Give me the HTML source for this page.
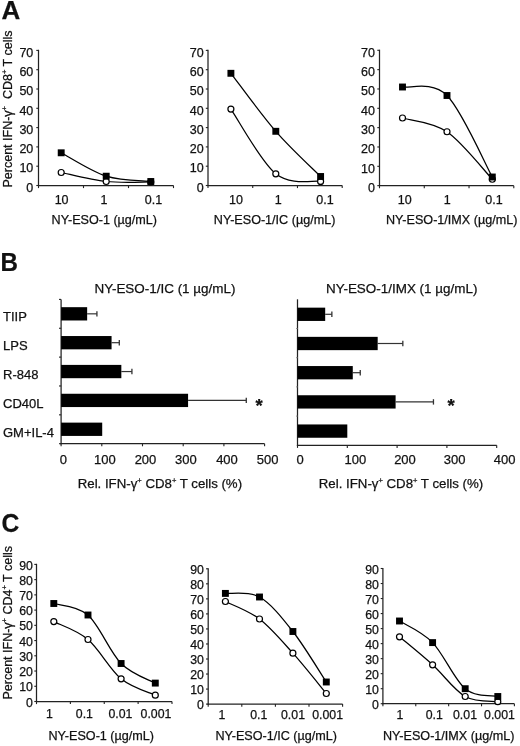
<!DOCTYPE html>
<html><head><meta charset="utf-8"><style>
html,body{margin:0;padding:0;background:#fff;}
svg{display:block;filter:grayscale(1);}
text{font-family:"Liberation Sans", sans-serif;fill:#111;stroke:#111;stroke-width:0.25;}
</style></head><body>
<svg width="520" height="746" viewBox="0 0 520 746">
<rect width="520" height="746" fill="#fff"/>
<text x="1.40" y="19.20" font-size="26" text-anchor="start" font-weight="bold" >A</text>
<g transform="translate(0.6,271) scale(0.93,1)"><text x="0" y="0" font-size="26" font-weight="bold">B</text></g>
<g transform="translate(1.5,532.3) scale(0.95,1)"><text x="0" y="0" font-size="26" font-weight="bold">C</text></g>
<text transform="translate(12.00,187.50) rotate(-90)" font-size="12.5">Percent IFN-γ<tspan font-size="7.5" dy="-5">+</tspan><tspan dy="5">  CD8</tspan><tspan font-size="7.5" dy="-5">+</tspan><tspan dy="5"> T cells</tspan></text>
<line x1="38.50" y1="49.80" x2="38.50" y2="186.10" stroke="#222" stroke-width="1.25"/>
<line x1="37.90" y1="185.50" x2="173.50" y2="185.50" stroke="#222" stroke-width="1.25"/>
<line x1="36.30" y1="185.50" x2="38.50" y2="185.50" stroke="#222" stroke-width="1.1"/>
<text x="33.30" y="191.70" font-size="12.5" text-anchor="end" >0</text>
<line x1="36.30" y1="166.20" x2="38.50" y2="166.20" stroke="#222" stroke-width="1.1"/>
<text x="33.30" y="172.40" font-size="12.5" text-anchor="end" >10</text>
<line x1="36.30" y1="146.90" x2="38.50" y2="146.90" stroke="#222" stroke-width="1.1"/>
<text x="33.30" y="153.10" font-size="12.5" text-anchor="end" >20</text>
<line x1="36.30" y1="127.60" x2="38.50" y2="127.60" stroke="#222" stroke-width="1.1"/>
<text x="33.30" y="133.80" font-size="12.5" text-anchor="end" >30</text>
<line x1="36.30" y1="108.30" x2="38.50" y2="108.30" stroke="#222" stroke-width="1.1"/>
<text x="33.30" y="114.50" font-size="12.5" text-anchor="end" >40</text>
<line x1="36.30" y1="89.00" x2="38.50" y2="89.00" stroke="#222" stroke-width="1.1"/>
<text x="33.30" y="95.20" font-size="12.5" text-anchor="end" >50</text>
<line x1="36.30" y1="69.70" x2="38.50" y2="69.70" stroke="#222" stroke-width="1.1"/>
<text x="33.30" y="75.90" font-size="12.5" text-anchor="end" >60</text>
<line x1="36.30" y1="50.40" x2="38.50" y2="50.40" stroke="#222" stroke-width="1.1"/>
<text x="33.30" y="56.60" font-size="12.5" text-anchor="end" >70</text>
<line x1="38.50" y1="185.50" x2="38.50" y2="188.10" stroke="#222" stroke-width="1.1"/>
<line x1="83.50" y1="185.50" x2="83.50" y2="188.10" stroke="#222" stroke-width="1.1"/>
<line x1="128.50" y1="185.50" x2="128.50" y2="188.10" stroke="#222" stroke-width="1.1"/>
<line x1="173.50" y1="185.50" x2="173.50" y2="188.10" stroke="#222" stroke-width="1.1"/>
<path d="M61.20,172.50 C68.70,174.00 91.27,179.92 106.20,181.50 C121.13,183.08 143.37,181.92 150.80,182.00" fill="none" stroke="#000" stroke-width="1.25"/>
<circle cx="61.20" cy="172.50" r="3.00" fill="#fff" stroke="#000" stroke-width="1.2"/>
<circle cx="106.20" cy="181.50" r="3.00" fill="#fff" stroke="#000" stroke-width="1.2"/>
<circle cx="150.80" cy="182.00" r="3.00" fill="#fff" stroke="#000" stroke-width="1.2"/>
<path d="M61.20,152.80 C68.70,156.70 91.27,171.42 106.20,176.20 C121.13,180.98 143.37,180.62 150.80,181.50" fill="none" stroke="#000" stroke-width="1.25"/>
<rect x="57.75" y="149.35" width="6.90" height="6.90" fill="#000"/>
<rect x="102.75" y="172.75" width="6.90" height="6.90" fill="#000"/>
<rect x="147.35" y="178.05" width="6.90" height="6.90" fill="#000"/>
<text x="61.60" y="203.60" font-size="12.5" text-anchor="middle" >10</text>
<text x="103.90" y="203.60" font-size="12.5" text-anchor="middle" >1</text>
<text x="153.40" y="203.60" font-size="12.5" text-anchor="middle" >0.1</text>
<text x="51.60" y="224.40" font-size="12.6" text-anchor="start" >NY-ESO-1 (µg/mL)</text>
<line x1="208.00" y1="49.80" x2="208.00" y2="186.10" stroke="#222" stroke-width="1.25"/>
<line x1="207.40" y1="185.50" x2="342.20" y2="185.50" stroke="#222" stroke-width="1.25"/>
<line x1="205.80" y1="185.50" x2="208.00" y2="185.50" stroke="#222" stroke-width="1.1"/>
<text x="203.60" y="191.70" font-size="12.5" text-anchor="end" >0</text>
<line x1="205.80" y1="166.20" x2="208.00" y2="166.20" stroke="#222" stroke-width="1.1"/>
<text x="203.60" y="172.40" font-size="12.5" text-anchor="end" >10</text>
<line x1="205.80" y1="146.90" x2="208.00" y2="146.90" stroke="#222" stroke-width="1.1"/>
<text x="203.60" y="153.10" font-size="12.5" text-anchor="end" >20</text>
<line x1="205.80" y1="127.60" x2="208.00" y2="127.60" stroke="#222" stroke-width="1.1"/>
<text x="203.60" y="133.80" font-size="12.5" text-anchor="end" >30</text>
<line x1="205.80" y1="108.30" x2="208.00" y2="108.30" stroke="#222" stroke-width="1.1"/>
<text x="203.60" y="114.50" font-size="12.5" text-anchor="end" >40</text>
<line x1="205.80" y1="89.00" x2="208.00" y2="89.00" stroke="#222" stroke-width="1.1"/>
<text x="203.60" y="95.20" font-size="12.5" text-anchor="end" >50</text>
<line x1="205.80" y1="69.70" x2="208.00" y2="69.70" stroke="#222" stroke-width="1.1"/>
<text x="203.60" y="75.90" font-size="12.5" text-anchor="end" >60</text>
<line x1="205.80" y1="50.40" x2="208.00" y2="50.40" stroke="#222" stroke-width="1.1"/>
<text x="203.60" y="56.60" font-size="12.5" text-anchor="end" >70</text>
<line x1="208.00" y1="185.50" x2="208.00" y2="188.10" stroke="#222" stroke-width="1.1"/>
<line x1="252.73" y1="185.50" x2="252.73" y2="188.10" stroke="#222" stroke-width="1.1"/>
<line x1="297.47" y1="185.50" x2="297.47" y2="188.10" stroke="#222" stroke-width="1.1"/>
<line x1="342.20" y1="185.50" x2="342.20" y2="188.10" stroke="#222" stroke-width="1.1"/>
<path d="M230.90,109.10 C238.38,119.88 260.85,161.75 275.80,173.80 C290.75,185.85 313.13,180.13 320.60,181.40" fill="none" stroke="#000" stroke-width="1.25"/>
<circle cx="230.90" cy="109.10" r="3.00" fill="#fff" stroke="#000" stroke-width="1.2"/>
<circle cx="275.80" cy="173.80" r="3.00" fill="#fff" stroke="#000" stroke-width="1.2"/>
<circle cx="320.60" cy="181.40" r="3.00" fill="#fff" stroke="#000" stroke-width="1.2"/>
<path d="M230.90,73.30 C238.38,82.97 260.85,114.10 275.80,131.30 C290.75,148.50 313.13,168.97 320.60,176.50" fill="none" stroke="#000" stroke-width="1.25"/>
<rect x="227.45" y="69.85" width="6.90" height="6.90" fill="#000"/>
<rect x="272.35" y="127.85" width="6.90" height="6.90" fill="#000"/>
<rect x="317.15" y="173.05" width="6.90" height="6.90" fill="#000"/>
<text x="235.90" y="203.60" font-size="12.5" text-anchor="middle" >10</text>
<text x="278.30" y="203.60" font-size="12.5" text-anchor="middle" >1</text>
<text x="324.90" y="203.60" font-size="12.5" text-anchor="middle" >0.1</text>
<text x="213.80" y="224.40" font-size="12.6" text-anchor="start" >NY-ESO-1/IC (µg/mL)</text>
<line x1="379.50" y1="49.70" x2="379.50" y2="186.25" stroke="#222" stroke-width="1.25"/>
<line x1="378.90" y1="185.65" x2="513.80" y2="185.65" stroke="#222" stroke-width="1.25"/>
<line x1="377.30" y1="185.65" x2="379.50" y2="185.65" stroke="#222" stroke-width="1.1"/>
<text x="375.00" y="191.85" font-size="12.5" text-anchor="end" >0</text>
<line x1="377.30" y1="166.31" x2="379.50" y2="166.31" stroke="#222" stroke-width="1.1"/>
<text x="375.00" y="172.51" font-size="12.5" text-anchor="end" >10</text>
<line x1="377.30" y1="146.98" x2="379.50" y2="146.98" stroke="#222" stroke-width="1.1"/>
<text x="375.00" y="153.18" font-size="12.5" text-anchor="end" >20</text>
<line x1="377.30" y1="127.64" x2="379.50" y2="127.64" stroke="#222" stroke-width="1.1"/>
<text x="375.00" y="133.84" font-size="12.5" text-anchor="end" >30</text>
<line x1="377.30" y1="108.31" x2="379.50" y2="108.31" stroke="#222" stroke-width="1.1"/>
<text x="375.00" y="114.51" font-size="12.5" text-anchor="end" >40</text>
<line x1="377.30" y1="88.97" x2="379.50" y2="88.97" stroke="#222" stroke-width="1.1"/>
<text x="375.00" y="95.17" font-size="12.5" text-anchor="end" >50</text>
<line x1="377.30" y1="69.64" x2="379.50" y2="69.64" stroke="#222" stroke-width="1.1"/>
<text x="375.00" y="75.84" font-size="12.5" text-anchor="end" >60</text>
<line x1="377.30" y1="50.30" x2="379.50" y2="50.30" stroke="#222" stroke-width="1.1"/>
<text x="375.00" y="56.50" font-size="12.5" text-anchor="end" >70</text>
<line x1="379.50" y1="185.65" x2="379.50" y2="188.25" stroke="#222" stroke-width="1.1"/>
<line x1="424.27" y1="185.65" x2="424.27" y2="188.25" stroke="#222" stroke-width="1.1"/>
<line x1="469.03" y1="185.65" x2="469.03" y2="188.25" stroke="#222" stroke-width="1.1"/>
<line x1="513.80" y1="185.65" x2="513.80" y2="188.25" stroke="#222" stroke-width="1.1"/>
<path d="M402.50,118.00 C409.92,120.29 432.03,121.54 447.00,131.75 C461.97,141.96 484.75,171.33 492.30,179.25" fill="none" stroke="#000" stroke-width="1.25"/>
<circle cx="402.50" cy="118.00" r="3.00" fill="#fff" stroke="#000" stroke-width="1.2"/>
<circle cx="447.00" cy="131.75" r="3.00" fill="#fff" stroke="#000" stroke-width="1.2"/>
<circle cx="492.30" cy="179.25" r="3.00" fill="#fff" stroke="#000" stroke-width="1.2"/>
<path d="M402.50,87.00 C409.92,88.42 432.03,80.50 447.00,95.50 C461.97,110.50 484.75,163.42 492.30,177.00" fill="none" stroke="#000" stroke-width="1.25"/>
<rect x="399.05" y="83.55" width="6.90" height="6.90" fill="#000"/>
<rect x="443.55" y="92.05" width="6.90" height="6.90" fill="#000"/>
<rect x="488.85" y="173.55" width="6.90" height="6.90" fill="#000"/>
<text x="404.70" y="203.60" font-size="12.5" text-anchor="middle" >10</text>
<text x="447.20" y="203.60" font-size="12.5" text-anchor="middle" >1</text>
<text x="493.90" y="203.60" font-size="12.5" text-anchor="middle" >0.1</text>
<text x="386.00" y="224.40" font-size="12.6" text-anchor="start" >NY-ESO-1/IMX (µg/mL)</text>
<text x="3.00" y="321.45" font-size="13" text-anchor="start" >TIIP</text>
<text x="3.00" y="350.35" font-size="13" text-anchor="start" >LPS</text>
<text x="3.00" y="379.25" font-size="13" text-anchor="start" >R-848</text>
<text x="3.00" y="408.15" font-size="13" text-anchor="start" >CD40L</text>
<text x="3.00" y="437.05" font-size="13" text-anchor="start" >GM+IL-4</text>
<line x1="61.10" y1="299.40" x2="61.10" y2="444.30" stroke="#222" stroke-width="1.25"/>
<line x1="60.50" y1="443.70" x2="264.60" y2="443.70" stroke="#222" stroke-width="1.25"/>
<line x1="59.00" y1="299.40" x2="61.10" y2="299.40" stroke="#222" stroke-width="1.1"/>
<line x1="59.00" y1="328.26" x2="61.10" y2="328.26" stroke="#222" stroke-width="1.1"/>
<line x1="59.00" y1="357.12" x2="61.10" y2="357.12" stroke="#222" stroke-width="1.1"/>
<line x1="59.00" y1="385.98" x2="61.10" y2="385.98" stroke="#222" stroke-width="1.1"/>
<line x1="59.00" y1="414.84" x2="61.10" y2="414.84" stroke="#222" stroke-width="1.1"/>
<line x1="59.00" y1="443.70" x2="61.10" y2="443.70" stroke="#222" stroke-width="1.1"/>
<line x1="61.10" y1="443.70" x2="61.10" y2="446.30" stroke="#222" stroke-width="1.1"/>
<text x="63.30" y="464.40" font-size="13" text-anchor="middle" >0</text>
<line x1="101.80" y1="443.70" x2="101.80" y2="446.30" stroke="#222" stroke-width="1.1"/>
<text x="104.90" y="464.40" font-size="13" text-anchor="middle" >100</text>
<line x1="142.50" y1="443.70" x2="142.50" y2="446.30" stroke="#222" stroke-width="1.1"/>
<text x="145.50" y="464.40" font-size="13" text-anchor="middle" >200</text>
<line x1="183.20" y1="443.70" x2="183.20" y2="446.30" stroke="#222" stroke-width="1.1"/>
<text x="185.80" y="464.40" font-size="13" text-anchor="middle" >300</text>
<line x1="223.90" y1="443.70" x2="223.90" y2="446.30" stroke="#222" stroke-width="1.1"/>
<text x="227.00" y="464.40" font-size="13" text-anchor="middle" >400</text>
<line x1="264.60" y1="443.70" x2="264.60" y2="446.30" stroke="#222" stroke-width="1.1"/>
<text x="267.60" y="464.40" font-size="13" text-anchor="middle" >500</text>
<line x1="87.15" y1="313.83" x2="96.92" y2="313.83" stroke="#333" stroke-width="1.2"/>
<line x1="96.92" y1="311.13" x2="96.92" y2="316.53" stroke="#333" stroke-width="1.3"/>
<rect x="61.10" y="307.18" width="26.05" height="13.30" fill="#000"/>
<line x1="111.57" y1="342.69" x2="119.30" y2="342.69" stroke="#333" stroke-width="1.2"/>
<line x1="119.30" y1="339.99" x2="119.30" y2="345.39" stroke="#333" stroke-width="1.3"/>
<rect x="61.10" y="336.04" width="50.47" height="13.30" fill="#000"/>
<line x1="121.34" y1="371.55" x2="131.92" y2="371.55" stroke="#333" stroke-width="1.2"/>
<line x1="131.92" y1="368.85" x2="131.92" y2="374.25" stroke="#333" stroke-width="1.3"/>
<rect x="61.10" y="364.90" width="60.24" height="13.30" fill="#000"/>
<line x1="188.08" y1="400.41" x2="246.28" y2="400.41" stroke="#333" stroke-width="1.2"/>
<line x1="246.28" y1="397.71" x2="246.28" y2="403.11" stroke="#333" stroke-width="1.3"/>
<rect x="61.10" y="393.76" width="126.98" height="13.30" fill="#000"/>
<rect x="61.10" y="422.62" width="41.11" height="13.30" fill="#000"/>
<text x="255.50" y="411.70" font-size="18.5" text-anchor="start" font-weight="bold" >*</text>
<text x="94.50" y="293.40" font-size="13.45" text-anchor="start" >NY-ESO-1/IC (1 µg/mL)</text>
<text x="77.70" y="488.40" font-size="13.25" text-anchor="start" >Rel. IFN-γ<tspan font-size="7.5" dy="-5">+</tspan><tspan dy="5"> CD8</tspan><tspan font-size="7.5" dy="-5">+</tspan><tspan dy="5"> T cells (%)</tspan></text>
<line x1="297.50" y1="299.30" x2="297.50" y2="445.90" stroke="#222" stroke-width="1.25"/>
<line x1="296.90" y1="445.30" x2="496.70" y2="445.30" stroke="#222" stroke-width="1.25"/>
<line x1="296.10" y1="328.50" x2="297.50" y2="328.50" stroke="#888" stroke-width="1.0"/>
<line x1="296.10" y1="357.70" x2="297.50" y2="357.70" stroke="#888" stroke-width="1.0"/>
<line x1="296.10" y1="386.90" x2="297.50" y2="386.90" stroke="#888" stroke-width="1.0"/>
<line x1="296.10" y1="416.10" x2="297.50" y2="416.10" stroke="#888" stroke-width="1.0"/>
<line x1="297.50" y1="445.30" x2="297.50" y2="447.90" stroke="#222" stroke-width="1.1"/>
<text x="300.20" y="464.40" font-size="13" text-anchor="middle" >0</text>
<line x1="347.30" y1="445.30" x2="347.30" y2="447.90" stroke="#222" stroke-width="1.1"/>
<text x="355.40" y="464.40" font-size="13" text-anchor="middle" >100</text>
<line x1="397.10" y1="445.30" x2="397.10" y2="447.90" stroke="#222" stroke-width="1.1"/>
<text x="405.00" y="464.40" font-size="13" text-anchor="middle" >200</text>
<line x1="446.90" y1="445.30" x2="446.90" y2="447.90" stroke="#222" stroke-width="1.1"/>
<text x="454.60" y="464.40" font-size="13" text-anchor="middle" >300</text>
<line x1="496.70" y1="445.30" x2="496.70" y2="447.90" stroke="#222" stroke-width="1.1"/>
<text x="504.60" y="464.40" font-size="13" text-anchor="middle" >400</text>
<line x1="325.19" y1="314.30" x2="331.86" y2="314.30" stroke="#333" stroke-width="1.2"/>
<line x1="331.86" y1="311.60" x2="331.86" y2="317.00" stroke="#333" stroke-width="1.3"/>
<rect x="297.50" y="307.65" width="27.69" height="13.30" fill="#000"/>
<line x1="377.68" y1="343.50" x2="402.83" y2="343.50" stroke="#333" stroke-width="1.2"/>
<line x1="402.83" y1="340.80" x2="402.83" y2="346.20" stroke="#333" stroke-width="1.3"/>
<rect x="297.50" y="336.85" width="80.18" height="13.30" fill="#000"/>
<line x1="352.78" y1="372.70" x2="360.25" y2="372.70" stroke="#333" stroke-width="1.2"/>
<line x1="360.25" y1="370.00" x2="360.25" y2="375.40" stroke="#333" stroke-width="1.3"/>
<rect x="297.50" y="366.05" width="55.28" height="13.30" fill="#000"/>
<line x1="395.61" y1="401.90" x2="433.45" y2="401.90" stroke="#333" stroke-width="1.2"/>
<line x1="433.45" y1="399.20" x2="433.45" y2="404.60" stroke="#333" stroke-width="1.3"/>
<rect x="297.50" y="395.25" width="98.11" height="13.30" fill="#000"/>
<rect x="297.50" y="424.45" width="49.80" height="13.30" fill="#000"/>
<text x="447.60" y="412.30" font-size="18.5" text-anchor="start" font-weight="bold" >*</text>
<text x="326.00" y="293.40" font-size="13.45" text-anchor="start" >NY-ESO-1/IMX (1 µg/mL)</text>
<text x="318.80" y="488.40" font-size="13.25" text-anchor="start" >Rel. IFN-γ<tspan font-size="7.5" dy="-5">+</tspan><tspan dy="5"> CD8</tspan><tspan font-size="7.5" dy="-5">+</tspan><tspan dy="5"> T cells (%)</tspan></text>
<text transform="translate(12.00,699.50) rotate(-90)" font-size="12.5">Percent IFN-γ<tspan font-size="7.5" dy="-5">+</tspan><tspan dy="5"> CD4</tspan><tspan font-size="7.5" dy="-5">+</tspan><tspan dy="5"> T cells</tspan></text>
<line x1="36.50" y1="563.80" x2="36.50" y2="702.10" stroke="#222" stroke-width="1.25"/>
<line x1="35.90" y1="701.50" x2="172.00" y2="701.50" stroke="#222" stroke-width="1.25"/>
<line x1="34.30" y1="701.50" x2="36.50" y2="701.50" stroke="#222" stroke-width="1.1"/>
<text x="32.90" y="706.60" font-size="12.3" text-anchor="end" >0</text>
<line x1="34.30" y1="686.27" x2="36.50" y2="686.27" stroke="#222" stroke-width="1.1"/>
<text x="32.90" y="691.37" font-size="12.3" text-anchor="end" >10</text>
<line x1="34.30" y1="671.03" x2="36.50" y2="671.03" stroke="#222" stroke-width="1.1"/>
<text x="32.90" y="676.13" font-size="12.3" text-anchor="end" >20</text>
<line x1="34.30" y1="655.80" x2="36.50" y2="655.80" stroke="#222" stroke-width="1.1"/>
<text x="32.90" y="660.90" font-size="12.3" text-anchor="end" >30</text>
<line x1="34.30" y1="640.57" x2="36.50" y2="640.57" stroke="#222" stroke-width="1.1"/>
<text x="32.90" y="645.67" font-size="12.3" text-anchor="end" >40</text>
<line x1="34.30" y1="625.33" x2="36.50" y2="625.33" stroke="#222" stroke-width="1.1"/>
<text x="32.90" y="630.43" font-size="12.3" text-anchor="end" >50</text>
<line x1="34.30" y1="610.10" x2="36.50" y2="610.10" stroke="#222" stroke-width="1.1"/>
<text x="32.90" y="615.20" font-size="12.3" text-anchor="end" >60</text>
<line x1="34.30" y1="594.87" x2="36.50" y2="594.87" stroke="#222" stroke-width="1.1"/>
<text x="32.90" y="599.97" font-size="12.3" text-anchor="end" >70</text>
<line x1="34.30" y1="579.63" x2="36.50" y2="579.63" stroke="#222" stroke-width="1.1"/>
<text x="32.90" y="584.73" font-size="12.3" text-anchor="end" >80</text>
<line x1="34.30" y1="564.40" x2="36.50" y2="564.40" stroke="#222" stroke-width="1.1"/>
<text x="32.90" y="569.50" font-size="12.3" text-anchor="end" >90</text>
<line x1="36.50" y1="701.50" x2="36.50" y2="704.10" stroke="#222" stroke-width="1.1"/>
<line x1="70.38" y1="701.50" x2="70.38" y2="704.10" stroke="#222" stroke-width="1.1"/>
<line x1="104.25" y1="701.50" x2="104.25" y2="704.10" stroke="#222" stroke-width="1.1"/>
<line x1="138.12" y1="701.50" x2="138.12" y2="704.10" stroke="#222" stroke-width="1.1"/>
<line x1="172.00" y1="701.50" x2="172.00" y2="704.10" stroke="#222" stroke-width="1.1"/>
<path d="M53.80,621.60 C59.50,624.58 76.78,629.97 88.00,639.50 C99.22,649.03 109.88,669.52 121.10,678.80 C132.32,688.08 149.60,692.47 155.30,695.20" fill="none" stroke="#000" stroke-width="1.25"/>
<circle cx="53.80" cy="621.60" r="3.00" fill="#fff" stroke="#000" stroke-width="1.2"/>
<circle cx="88.00" cy="639.50" r="3.00" fill="#fff" stroke="#000" stroke-width="1.2"/>
<circle cx="121.10" cy="678.80" r="3.00" fill="#fff" stroke="#000" stroke-width="1.2"/>
<circle cx="155.30" cy="695.20" r="3.00" fill="#fff" stroke="#000" stroke-width="1.2"/>
<path d="M53.80,603.50 C59.50,605.42 76.78,605.00 88.00,615.00 C99.22,625.00 109.88,652.15 121.10,663.50 C132.32,674.85 149.60,679.83 155.30,683.10" fill="none" stroke="#000" stroke-width="1.25"/>
<rect x="50.35" y="600.05" width="6.90" height="6.90" fill="#000"/>
<rect x="84.55" y="611.55" width="6.90" height="6.90" fill="#000"/>
<rect x="117.65" y="660.05" width="6.90" height="6.90" fill="#000"/>
<rect x="151.85" y="679.65" width="6.90" height="6.90" fill="#000"/>
<text x="49.50" y="718.20" font-size="12.3" text-anchor="middle" >1</text>
<text x="84.40" y="718.20" font-size="12.3" text-anchor="middle" >0.1</text>
<text x="120.40" y="718.20" font-size="12.3" text-anchor="middle" >0.01</text>
<text x="156.00" y="718.20" font-size="12.3" text-anchor="middle" >0.001</text>
<text x="48.50" y="739.60" font-size="12.6" text-anchor="start" >NY-ESO-1 (µg/mL)</text>
<line x1="208.20" y1="568.20" x2="208.20" y2="704.70" stroke="#222" stroke-width="1.25"/>
<line x1="207.60" y1="704.10" x2="342.60" y2="704.10" stroke="#222" stroke-width="1.25"/>
<line x1="206.00" y1="704.10" x2="208.20" y2="704.10" stroke="#222" stroke-width="1.1"/>
<text x="203.90" y="709.20" font-size="12.3" text-anchor="end" >0</text>
<line x1="206.00" y1="689.07" x2="208.20" y2="689.07" stroke="#222" stroke-width="1.1"/>
<text x="203.90" y="694.17" font-size="12.3" text-anchor="end" >10</text>
<line x1="206.00" y1="674.03" x2="208.20" y2="674.03" stroke="#222" stroke-width="1.1"/>
<text x="203.90" y="679.13" font-size="12.3" text-anchor="end" >20</text>
<line x1="206.00" y1="659.00" x2="208.20" y2="659.00" stroke="#222" stroke-width="1.1"/>
<text x="203.90" y="664.10" font-size="12.3" text-anchor="end" >30</text>
<line x1="206.00" y1="643.97" x2="208.20" y2="643.97" stroke="#222" stroke-width="1.1"/>
<text x="203.90" y="649.07" font-size="12.3" text-anchor="end" >40</text>
<line x1="206.00" y1="628.93" x2="208.20" y2="628.93" stroke="#222" stroke-width="1.1"/>
<text x="203.90" y="634.03" font-size="12.3" text-anchor="end" >50</text>
<line x1="206.00" y1="613.90" x2="208.20" y2="613.90" stroke="#222" stroke-width="1.1"/>
<text x="203.90" y="619.00" font-size="12.3" text-anchor="end" >60</text>
<line x1="206.00" y1="598.87" x2="208.20" y2="598.87" stroke="#222" stroke-width="1.1"/>
<text x="203.90" y="603.97" font-size="12.3" text-anchor="end" >70</text>
<line x1="206.00" y1="583.83" x2="208.20" y2="583.83" stroke="#222" stroke-width="1.1"/>
<text x="203.90" y="588.93" font-size="12.3" text-anchor="end" >80</text>
<line x1="206.00" y1="568.80" x2="208.20" y2="568.80" stroke="#222" stroke-width="1.1"/>
<text x="203.90" y="573.90" font-size="12.3" text-anchor="end" >90</text>
<line x1="208.20" y1="704.10" x2="208.20" y2="706.70" stroke="#222" stroke-width="1.1"/>
<line x1="241.80" y1="704.10" x2="241.80" y2="706.70" stroke="#222" stroke-width="1.1"/>
<line x1="275.40" y1="704.10" x2="275.40" y2="706.70" stroke="#222" stroke-width="1.1"/>
<line x1="309.00" y1="704.10" x2="309.00" y2="706.70" stroke="#222" stroke-width="1.1"/>
<line x1="342.60" y1="704.10" x2="342.60" y2="706.70" stroke="#222" stroke-width="1.1"/>
<path d="M225.40,601.50 C231.08,604.42 248.25,610.38 259.50,619.00 C270.75,627.62 281.77,640.78 292.90,653.20 C304.03,665.62 320.73,686.78 326.30,693.50" fill="none" stroke="#000" stroke-width="1.25"/>
<circle cx="225.40" cy="601.50" r="3.00" fill="#fff" stroke="#000" stroke-width="1.2"/>
<circle cx="259.50" cy="619.00" r="3.00" fill="#fff" stroke="#000" stroke-width="1.2"/>
<circle cx="292.90" cy="653.20" r="3.00" fill="#fff" stroke="#000" stroke-width="1.2"/>
<circle cx="326.30" cy="693.50" r="3.00" fill="#fff" stroke="#000" stroke-width="1.2"/>
<path d="M225.40,593.40 C231.08,594.00 248.25,590.65 259.50,597.00 C270.75,603.35 281.77,617.33 292.90,631.50 C304.03,645.67 320.73,673.58 326.30,682.00" fill="none" stroke="#000" stroke-width="1.25"/>
<rect x="221.95" y="589.95" width="6.90" height="6.90" fill="#000"/>
<rect x="256.05" y="593.55" width="6.90" height="6.90" fill="#000"/>
<rect x="289.45" y="628.05" width="6.90" height="6.90" fill="#000"/>
<rect x="322.85" y="678.55" width="6.90" height="6.90" fill="#000"/>
<text x="222.00" y="718.80" font-size="12.3" text-anchor="middle" >1</text>
<text x="258.70" y="718.80" font-size="12.3" text-anchor="middle" >0.1</text>
<text x="293.00" y="718.80" font-size="12.3" text-anchor="middle" >0.01</text>
<text x="327.60" y="718.80" font-size="12.3" text-anchor="middle" >0.001</text>
<text x="215.40" y="739.60" font-size="12.6" text-anchor="start" >NY-ESO-1/IC (µg/mL)</text>
<line x1="382.90" y1="567.90" x2="382.90" y2="704.30" stroke="#222" stroke-width="1.25"/>
<line x1="382.30" y1="703.70" x2="514.40" y2="703.70" stroke="#222" stroke-width="1.25"/>
<line x1="380.70" y1="703.70" x2="382.90" y2="703.70" stroke="#222" stroke-width="1.1"/>
<text x="378.90" y="708.80" font-size="12.3" text-anchor="end" >0</text>
<line x1="380.70" y1="688.68" x2="382.90" y2="688.68" stroke="#222" stroke-width="1.1"/>
<text x="378.90" y="693.78" font-size="12.3" text-anchor="end" >10</text>
<line x1="380.70" y1="673.66" x2="382.90" y2="673.66" stroke="#222" stroke-width="1.1"/>
<text x="378.90" y="678.76" font-size="12.3" text-anchor="end" >20</text>
<line x1="380.70" y1="658.63" x2="382.90" y2="658.63" stroke="#222" stroke-width="1.1"/>
<text x="378.90" y="663.73" font-size="12.3" text-anchor="end" >30</text>
<line x1="380.70" y1="643.61" x2="382.90" y2="643.61" stroke="#222" stroke-width="1.1"/>
<text x="378.90" y="648.71" font-size="12.3" text-anchor="end" >40</text>
<line x1="380.70" y1="628.59" x2="382.90" y2="628.59" stroke="#222" stroke-width="1.1"/>
<text x="378.90" y="633.69" font-size="12.3" text-anchor="end" >50</text>
<line x1="380.70" y1="613.57" x2="382.90" y2="613.57" stroke="#222" stroke-width="1.1"/>
<text x="378.90" y="618.67" font-size="12.3" text-anchor="end" >60</text>
<line x1="380.70" y1="598.54" x2="382.90" y2="598.54" stroke="#222" stroke-width="1.1"/>
<text x="378.90" y="603.64" font-size="12.3" text-anchor="end" >70</text>
<line x1="380.70" y1="583.52" x2="382.90" y2="583.52" stroke="#222" stroke-width="1.1"/>
<text x="378.90" y="588.62" font-size="12.3" text-anchor="end" >80</text>
<line x1="380.70" y1="568.50" x2="382.90" y2="568.50" stroke="#222" stroke-width="1.1"/>
<text x="378.90" y="573.60" font-size="12.3" text-anchor="end" >90</text>
<line x1="382.90" y1="703.70" x2="382.90" y2="706.30" stroke="#222" stroke-width="1.1"/>
<line x1="415.77" y1="703.70" x2="415.77" y2="706.30" stroke="#222" stroke-width="1.1"/>
<line x1="448.65" y1="703.70" x2="448.65" y2="706.30" stroke="#222" stroke-width="1.1"/>
<line x1="481.52" y1="703.70" x2="481.52" y2="706.30" stroke="#222" stroke-width="1.1"/>
<line x1="514.40" y1="703.70" x2="514.40" y2="706.30" stroke="#222" stroke-width="1.1"/>
<path d="M399.50,636.80 C405.02,641.47 421.65,654.85 432.60,664.80 C443.55,674.75 454.33,690.35 465.20,696.50 C476.07,702.65 492.37,700.83 497.80,701.70" fill="none" stroke="#000" stroke-width="1.25"/>
<circle cx="399.50" cy="636.80" r="3.00" fill="#fff" stroke="#000" stroke-width="1.2"/>
<circle cx="432.60" cy="664.80" r="3.00" fill="#fff" stroke="#000" stroke-width="1.2"/>
<circle cx="465.20" cy="696.50" r="3.00" fill="#fff" stroke="#000" stroke-width="1.2"/>
<circle cx="497.80" cy="701.70" r="3.00" fill="#fff" stroke="#000" stroke-width="1.2"/>
<path d="M399.50,621.00 C405.02,624.60 421.65,631.32 432.60,642.60 C443.55,653.88 454.33,679.72 465.20,688.70 C476.07,697.68 492.37,695.20 497.80,696.50" fill="none" stroke="#000" stroke-width="1.25"/>
<rect x="396.05" y="617.55" width="6.90" height="6.90" fill="#000"/>
<rect x="429.15" y="639.15" width="6.90" height="6.90" fill="#000"/>
<rect x="461.75" y="685.25" width="6.90" height="6.90" fill="#000"/>
<rect x="494.35" y="693.05" width="6.90" height="6.90" fill="#000"/>
<text x="400.00" y="718.80" font-size="12.3" text-anchor="middle" >1</text>
<text x="434.30" y="718.80" font-size="12.3" text-anchor="middle" >0.1</text>
<text x="465.00" y="718.80" font-size="12.3" text-anchor="middle" >0.01</text>
<text x="499.50" y="718.80" font-size="12.3" text-anchor="middle" >0.001</text>
<text x="383.00" y="739.60" font-size="12.6" text-anchor="start" >NY-ESO-1/IMX (µg/mL)</text>
</svg>
</body></html>
